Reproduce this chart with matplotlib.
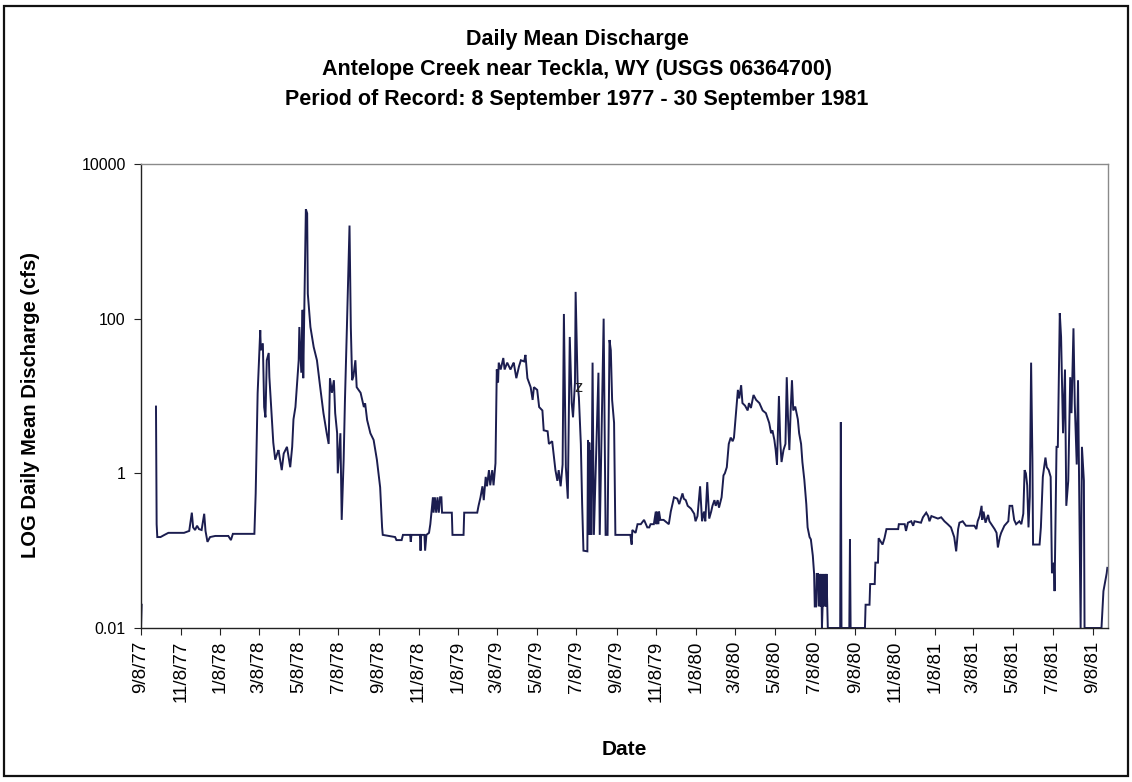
import numpy as np
import pandas as pd
import matplotlib
matplotlib.use('Agg')
import matplotlib.pyplot as plt
import matplotlib.dates as mdates
from matplotlib.patches import Rectangle
from matplotlib.ticker import FuncFormatter, NullLocator

plt.rcParams['font.family'] = ['Liberation Sans', 'DejaVu Sans']

START = pd.Timestamp('1977-09-08')
END = pd.Timestamp('1981-10-01')
TITLE = ['Daily Mean Discharge',
         'Antelope Creek near Teckla, WY (USGS 06364700)',
         'Period of Record: 8 September 1977 - 30 September 1981']

# day of record (days after 8 Sep 1977) and daily mean discharge, cfs
# zero-flow days are stored as 0 and left out of the log plot
day_of_record = [
    0, 1, 2, 22, 23, 24, 25, 30, 36, 42, 55, 66, 74, 78, 80, 83, 86, 89, 93, 97,
    99, 102, 106, 114, 124, 134, 138, 141, 152, 164, 174, 176, 179, 183, 184, 187, 189, 191, 193, 196,
    197, 201, 203, 206, 209, 211, 216, 219, 224, 229, 232, 234, 237, 242, 243, 246, 248, 249, 251, 253,
    255, 256, 260, 265, 270, 275, 280, 285, 288, 290, 293, 296, 298, 301, 302, 306, 308, 311, 313, 316,
    320, 322, 324, 326, 329, 331, 337, 342, 344, 347, 352, 357, 362, 367, 370, 371, 390, 392, 400, 402,
    413, 414, 415, 428, 429, 430, 435, 436, 438, 442, 444, 448, 449, 451, 453, 455, 457, 459, 461, 462,
    477, 478, 495, 496, 516, 518, 521, 524, 526, 529, 531, 534, 536, 539, 541, 544, 546, 548, 549, 552,
    556, 558, 562, 567, 570, 572, 576, 580, 583, 588, 590, 593, 598, 601, 603, 608, 611, 616, 618, 624,
    626, 631, 636, 639, 641, 644, 647, 649, 652, 655, 658, 661, 663, 666, 667, 670, 672, 675, 677, 679,
    685, 686, 687, 688, 689, 690, 691, 693, 695, 702, 704, 710, 713, 716, 719, 721, 723, 726, 728, 751,
    753, 754, 759, 762, 767, 772, 777, 780, 782, 787, 790, 791, 792, 794, 795, 797, 802, 810, 813, 818,
    823, 826, 831, 833, 836, 839, 844, 849, 851, 854, 858, 861, 864, 866, 869, 872, 875, 877, 880, 882,
    885, 887, 891, 894, 896, 899, 902, 905, 908, 910, 913, 916, 918, 921, 923, 927, 931, 933, 936, 940,
    944, 949, 954, 959, 964, 967, 969, 972, 974, 976, 979, 981, 983, 986, 989, 991, 993, 995, 997, 999,
    1001, 1004, 1008, 1010, 1013, 1015, 1018, 1021, 1023, 1026, 1028, 1031, 1033, 1034, 1036, 1037, 1039, 1040, 1042, 1043,
    1044, 1045, 1046, 1047, 1048, 1050, 1051, 1052, 1054, 1073, 1074, 1075, 1087, 1088, 1089, 1111, 1112, 1118, 1119, 1126,
    1127, 1131, 1132, 1138, 1141, 1144, 1162, 1163, 1172, 1174, 1177, 1182, 1185, 1187, 1197, 1200, 1205, 1208, 1210, 1213,
    1218, 1223, 1228, 1233, 1238, 1243, 1248, 1251, 1254, 1256, 1261, 1266, 1279, 1282, 1284, 1287, 1290, 1291, 1293, 1296,
    1300, 1302, 1305, 1310, 1313, 1315, 1318, 1320, 1325, 1331, 1333, 1337, 1340, 1343, 1348, 1351, 1354, 1356, 1358, 1360,
    1362, 1364, 1366, 1368, 1369, 1379, 1381, 1384, 1388, 1390, 1393, 1396, 1398, 1401, 1402, 1405, 1407, 1410, 1412, 1415,
    1418, 1420, 1423, 1426, 1428, 1431, 1433, 1436, 1438, 1441, 1442, 1444, 1447, 1448, 1474, 1477, 1482, 1483,
]
discharge_cfs = [
    0.01, 0.02, 0, 0, 7.3, 0.22, 0.15, 0.15, 0.16, 0.17, 0.17, 0.17, 0.18, 0.31, 0.20, 0.185, 0.21, 0.19, 0.185, 0.30,
    0.18, 0.13, 0.15, 0.155, 0.155, 0.155, 0.137, 0.165, 0.165, 0.165, 0.165, 0.55, 10.9, 71, 39, 48, 7.2, 5.3, 29, 36,
    17.6, 4.9, 2.5, 1.5, 1.8, 2.0, 1.1, 1.8, 2.2, 1.2, 2.2, 5.0, 7.2, 29, 78, 20, 130, 17, 190, 2600,
    2300, 210, 78, 43, 29, 13, 6.0, 3.3, 2.4, 17, 11, 16, 6.0, 3.3, 1.0, 3.3, 0.25, 1.5, 8.9, 78,
    1600, 78, 16, 18, 29, 13, 11, 7.2, 8.0, 4.9, 3.3, 2.7, 1.5, 0.66, 0.20, 0.16, 0.15, 0.137, 0.137, 0.16,
    0.16, 0.13, 0.16, 0.16, 0.10, 0.16, 0.16, 0.10, 0.16, 0.17, 0.22, 0.49, 0.31, 0.49, 0.31, 0.49, 0.31, 0.49, 0.49, 0.31,
    0.31, 0.16, 0.16, 0.31, 0.31, 0.38, 0.49, 0.68, 0.45, 0.9, 0.68, 1.1, 0.7, 1.1, 0.7, 1.35, 22, 15, 27, 22,
    31, 22, 27, 22, 25, 27, 17, 24, 29, 28, 34, 17, 13, 8.9, 13, 12, 7.2, 6.5, 3.6, 3.5,
    2.4, 2.6, 1.1, 0.8, 1.1, 0.68, 1.3, 115, 1.2, 0.47, 58, 8.1, 5.3, 15, 222, 15, 9.6, 2.4, 0.4, 0.10,
    0.098, 2.7, 0.16, 2.5, 0.16, 2.0, 0.16, 27, 0.16, 20, 0.16, 100, 0.16, 0.16, 53, 39, 8.9, 4.5, 0.16, 0.16,
    0.12, 0.185, 0.17, 0.22, 0.22, 0.25, 0.20, 0.20, 0.22, 0.22, 0.32, 0.22, 0.32, 0.22, 0.32, 0.25, 0.25, 0.22, 0.32, 0.49,
    0.47, 0.40, 0.55, 0.47, 0.45, 0.38, 0.35, 0.30, 0.24, 0.28, 0.68, 0.24, 0.32, 0.24, 0.77, 0.26, 0.32, 0.38, 0.45, 0.38,
    0.45, 0.36, 0.49, 0.94, 1.0, 1.2, 2.4, 2.9, 2.6, 2.9, 6.0, 12, 9.3, 13.8, 8.1, 7.5, 6.5, 8.1, 7.0, 10.3,
    8.9, 8.1, 6.5, 6.0, 4.5, 3.3, 3.6, 2.7, 2.0, 1.3, 10.0, 2.6, 1.4, 2.0, 2.4, 17.5, 5.0, 2.0, 6.5, 16,
    6.5, 7.3, 5.0, 3.3, 2.4, 1.4, 0.82, 0.40, 0.20, 0.15, 0.14, 0.086, 0.05, 0.019, 0.019, 0.05, 0.05, 0.019, 0.05, 0.019,
    0.05, 0.01, 0.019, 0.05, 0.019, 0.05, 0.019, 0.05, 0.01, 0.01, 4.6, 0.01, 0.01, 0.14, 0.01, 0.01, 0.02, 0.02, 0.037, 0.037,
    0.07, 0.07, 0.145, 0.12, 0.145, 0.19, 0.19, 0.22, 0.22, 0.18, 0.23, 0.24, 0.21, 0.24, 0.23, 0.27, 0.31, 0.28, 0.24, 0.28,
    0.27, 0.26, 0.27, 0.24, 0.22, 0.20, 0.15, 0.098, 0.19, 0.23, 0.24, 0.21, 0.21, 0.19, 0.24, 0.28, 0.38, 0.25, 0.32, 0.23,
    0.29, 0.24, 0.22, 0.19, 0.17, 0.11, 0.15, 0.17, 0.21, 0.24, 0.38, 0.38, 0.25, 0.22, 0.24, 0.22, 0.30, 1.1, 1.0, 0.7,
    0.20, 0.5, 27, 1.5, 0.12, 0.12, 0.20, 0.9, 1.6, 1.2, 1.1, 0.9, 0.051, 0.07, 0.03, 2.2, 2.2, 118, 58, 3.3,
    22, 0.38, 0.8, 17.5, 6.0, 75, 8.0, 1.3, 16, 0.05, 0.01, 2.2, 0.8, 0.01, 0.01, 0.03, 0.051, 0.06,
]

dates = START + pd.to_timedelta(day_of_record, unit='D')
q = np.array(discharge_cfs, dtype=float)
q = np.where(q > 0, q, np.nan)

LINE = '#1b1d4f'

fig = plt.figure(figsize=(11.32, 7.82), dpi=100)
ax = fig.add_axes([141 / 1132, 1 - 628 / 782, 967 / 1132, 464 / 782])

ax.plot(dates, q, color=LINE, lw=1.4, solid_joinstyle='miter')

ax.set_yscale('log')
ax.set_ylim(0.01, 10000)
ax.set_yticks([0.01, 1, 100, 10000])
ax.yaxis.set_major_formatter(FuncFormatter(lambda v, p: f'{v:g}'))
ax.yaxis.set_minor_locator(NullLocator())

ax.set_xlim(START, END)
ax.xaxis.set_major_locator(mdates.MonthLocator(bymonth=[1, 3, 5, 7, 9, 11], bymonthday=8))
ax.xaxis.set_major_formatter(FuncFormatter(
    lambda v, p: (lambda d: f'{d.month}/{d.day}/{d.year % 100:02d}')(mdates.num2date(v))))

ax.tick_params(axis='both', direction='out', length=5, width=0.8, color='#222222',
               labelcolor='black')
ax.tick_params(axis='x', pad=4, labelsize=13.5)
ax.tick_params(axis='y', pad=6, labelsize=11.5)
plt.setp(ax.get_xticklabels(), rotation=90, ha='center', va='top')

for s in ('left', 'bottom'):
    ax.spines[s].set_color('#222222')
    ax.spines[s].set_linewidth(1.0)
for s in ('top', 'right'):
    ax.spines[s].set_color('#8a8a8a')
    ax.spines[s].set_linewidth(1.0)

ax.set_ylabel('LOG Daily Mean Discharge (cfs)', fontsize=14.5, fontweight='bold')
ax.yaxis.set_label_coords(-0.104, 0.48)
ax.set_xlabel('Date', fontsize=15, fontweight='bold')
ax.xaxis.set_label_coords(0.5, -0.242)

# stray annotation mark that sits on the 1979 storm spikes
ax.text(START + pd.Timedelta(days=671), 13, 'z', fontsize=12, ha='center', va='center',
        color='#222222')

xc = 577 / 1132
for line, ypix in zip(TITLE, (40, 70, 99)):
    fig.text(xc, 1 - ypix / 782, line, ha='center', va='center',
             fontsize=15.5, fontweight='bold')

# chart-area border
fig.patches.append(Rectangle((4 / 1132, 1 - 776 / 782), 1124 / 1132, 770 / 782,
                             transform=fig.transFigure, fill=False,
                             edgecolor='#111111', lw=1.6))

fig.savefig('out.png', dpi=100, facecolor='white')
